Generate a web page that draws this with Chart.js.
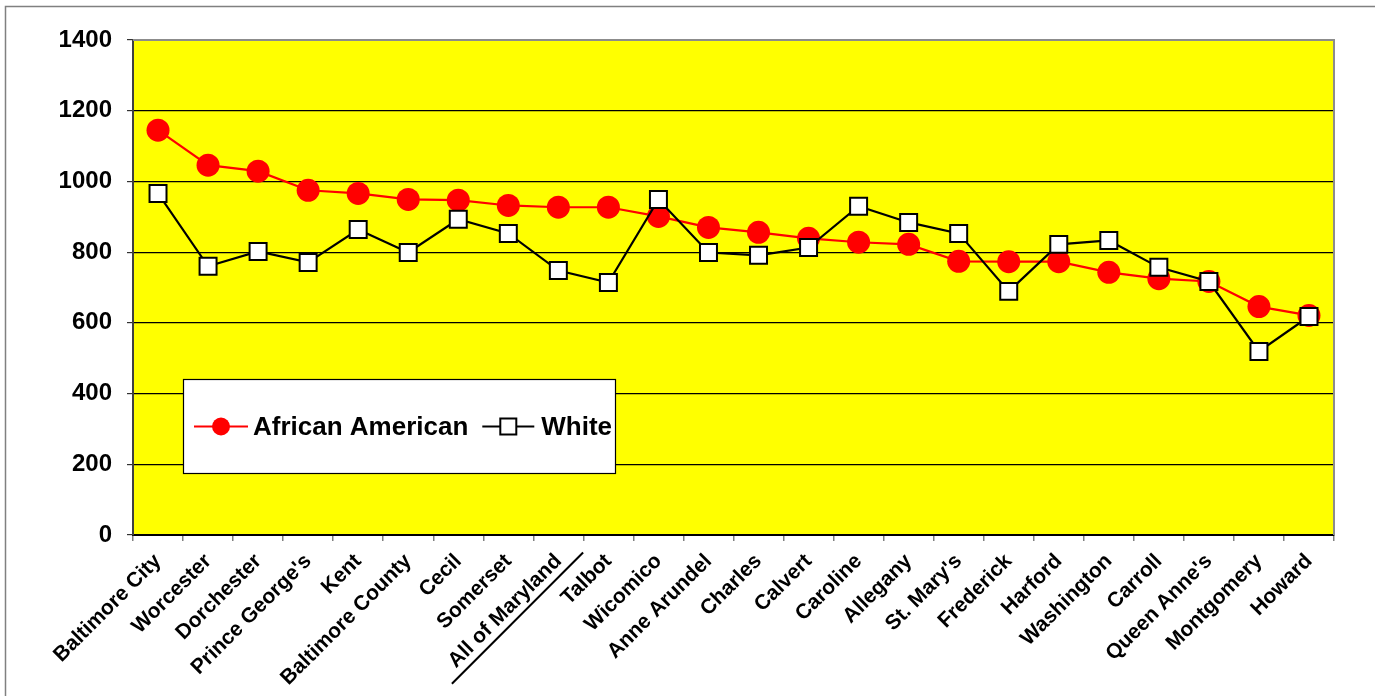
<!DOCTYPE html>
<html>
<head>
<meta charset="utf-8">
<script src="https://cdn.jsdelivr.net/npm/chart.js@4/dist/chart.umd.min.js"></script>
<style>
  html, body { margin: 0; padding: 0; background: #ffffff; }
  #wrap { position: relative; width: 1375px; height: 696px; }
  canvas { display: block; }
</style>
</head>
<body>
<div id="wrap"><canvas id="chart" width="1375" height="696"></canvas></div>
<script>
// Counties of Maryland, ordered by the African American rate
const counties = [
  'Baltimore City', 'Worcester', 'Dorchester', "Prince George's", 'Kent',
  'Baltimore County', 'Cecil', 'Somerset', 'All of Maryland', 'Talbot',
  'Wicomico', 'Anne Arundel', 'Charles', 'Calvert', 'Caroline', 'Allegany',
  "St. Mary's", 'Frederick', 'Harford', 'Washington', 'Carroll',
  "Queen Anne's", 'Montgomery', 'Howard'
];

const africanAmerican = [
  1145, 1046, 1029, 975, 966, 949, 947, 932, 927, 927, 901, 870,
  856, 839, 828, 822, 774, 773, 773, 743, 725, 717, 646, 621
];

const white = [
  966, 760, 802, 771, 864, 799, 893, 853, 748, 714, 949, 799,
  791, 813, 930, 884, 853, 689, 822, 833, 757, 717, 519, 618
];

const yTicks = [0, 200, 400, 600, 800, 1000, 1200, 1400];
const underlinedLabel = 'All of Maryland';
const seriesNames = ['African American', 'White'];

const FONT = "'Liberation Sans', Arial, Helvetica, sans-serif";
const X_FONT_SIZE = 21;
const X_TICK_LEN = 6;
const X_PAD = 8;

// yellow plot background + gray frame on top/right, page frame
const framePlugin = {
  id: 'framePlugin',
  beforeDraw(chart) {
    const { ctx, chartArea: a } = chart;
    ctx.save();
    ctx.fillStyle = '#FFFF00';
    ctx.fillRect(a.left, a.top, a.right - a.left, a.bottom - a.top);
    // outer page frame
    ctx.strokeStyle = '#808080';
    ctx.lineWidth = 1.5;
    ctx.beginPath();
    ctx.moveTo(5.5, chart.height + 2);
    ctx.lineTo(5.5, 6.5);
    ctx.lineTo(chart.width + 2, 6.5);
    ctx.stroke();
    ctx.restore();
  },
  beforeDatasetsDraw(chart) {
    const { ctx, chartArea: a } = chart;
    ctx.save();
    ctx.strokeStyle = '#8c8c8c';
    ctx.lineWidth = 2;
    ctx.beginPath();
    ctx.moveTo(a.left, a.top);
    ctx.lineTo(a.right, a.top);
    ctx.lineTo(a.right, a.bottom);
    ctx.stroke();
    ctx.restore();
  }
};

// underline under the state-wide label, running up to the category edge
const underlinePlugin = {
  id: 'underlinePlugin',
  afterDraw(chart) {
    const xs = chart.scales.x;
    const idx = counties.indexOf(underlinedLabel);
    if (idx < 0) return;
    const { ctx } = chart;
    ctx.save();
    ctx.font = 'bold ' + X_FONT_SIZE + 'px ' + FONT;
    const w = ctx.measureText(underlinedLabel).width;
    const px = xs.getPixelForTick(idx);
    const py = xs.top + X_TICK_LEN + X_PAD;
    ctx.translate(px, py);
    ctx.rotate(-Math.PI / 4);
    ctx.strokeStyle = '#000';
    ctx.lineWidth = 2;
    ctx.beginPath();
    ctx.moveTo(-w - 20, 20);
    ctx.lineTo(15, 20);
    ctx.stroke();
    ctx.restore();
  }
};

// boxed legend inside the plot area
const boxLegendPlugin = {
  id: 'boxLegendPlugin',
  afterDraw(chart) {
    const { ctx, chartArea: a } = chart;
    const left = a.left + 50, top = a.top + 339, w = 432, h = 94;
    const cy = top + h / 2 + 0.5;
    ctx.save();
    ctx.fillStyle = '#ffffff';
    ctx.fillRect(left, top, w, h);
    ctx.strokeStyle = '#000';
    ctx.lineWidth = 1.2;
    ctx.strokeRect(left + 0.5, top + 0.5, w, h);

    ctx.font = 'bold 26px ' + FONT;
    ctx.textBaseline = 'middle';
    ctx.textAlign = 'left';

    let x = left + 11;
    // African American entry
    ctx.strokeStyle = '#FF0000';
    ctx.lineWidth = 2;
    ctx.beginPath(); ctx.moveTo(x, cy); ctx.lineTo(x + 54, cy); ctx.stroke();
    ctx.fillStyle = '#FF0000';
    ctx.beginPath(); ctx.arc(x + 27, cy, 9, 0, Math.PI * 2); ctx.fill();
    x += 59;
    ctx.fillStyle = '#000';
    ctx.fillText(seriesNames[0], x, cy + 1);
    x += ctx.measureText(seriesNames[0]).width + 14;

    // White entry
    ctx.strokeStyle = '#000';
    ctx.lineWidth = 2;
    ctx.beginPath(); ctx.moveTo(x, cy); ctx.lineTo(x + 52, cy); ctx.stroke();
    ctx.fillStyle = '#fff';
    ctx.fillRect(x + 18, cy - 8, 16, 16);
    ctx.strokeRect(x + 18, cy - 8, 16, 16);
    x += 59;
    ctx.fillStyle = '#000';
    ctx.fillText(seriesNames[1], x, cy + 1);
    ctx.restore();
  }
};

new Chart(document.getElementById('chart'), {
  type: 'line',
  data: {
    labels: counties,
    datasets: [
      {
        label: seriesNames[0],
        data: africanAmerican,
        borderColor: '#FF0000',
        backgroundColor: '#FF0000',
        borderWidth: 2.2,
        pointStyle: 'circle',
        pointRadius: 11.5,
        pointBackgroundColor: '#FF0000',
        pointBorderColor: '#FF0000',
        pointBorderWidth: 0,
        tension: 0,
        order: 1
      },
      {
        label: seriesNames[1],
        data: white,
        borderColor: '#000000',
        backgroundColor: '#ffffff',
        borderWidth: 2.2,
        pointStyle: 'rect',
        pointRadius: 12,
        pointBackgroundColor: '#ffffff',
        pointBorderColor: '#000000',
        pointBorderWidth: 2,
        tension: 0,
        order: 0
      }
    ]
  },
  options: {
    responsive: false,
    animation: false,
    events: [],
    layout: { padding: { top: 40, right: 41, left: 0, bottom: 0 } },
    plugins: {
      legend: { display: false },
      tooltip: { enabled: false },
      title: { display: false }
    },
    scales: {
      x: {
        offset: true,
        grid: {
          offset: true,
          drawOnChartArea: false,
          drawTicks: true,
          tickLength: X_TICK_LEN,
          tickColor: '#808080',
          lineWidth: 1.5
        },
        border: { display: true, color: '#000000', width: 2 },
        ticks: {
          autoSkip: false,
          minRotation: 45,
          maxRotation: 45,
          padding: X_PAD,
          color: '#000000',
          font: { family: FONT, size: X_FONT_SIZE, weight: 'bold' }
        },
        afterFit(scale) { scale.height = 161; }
      },
      y: {
        min: 0,
        max: 1400,
        afterBuildTicks(scale) { scale.ticks = yTicks.map(v => ({ value: v })); },
        grid: {
          color: (c) => (c.tick && c.tick.value === 1400) ? 'rgba(0,0,0,0)' : '#000000',
          lineWidth: 1.2,
          drawTicks: true,
          tickLength: 6,
          tickColor: '#333333'
        },
        border: { display: true, color: '#404040', width: 2 },
        ticks: {
          padding: 15,
          color: '#000000',
          font: { family: FONT, size: 24, weight: 'bold' },
          callback: (v) => String(v)
        },
        afterFit(scale) { scale.width = 133; }
      }
    }
  },
  plugins: [framePlugin, underlinePlugin, boxLegendPlugin]
});
</script>
</body>
</html>
